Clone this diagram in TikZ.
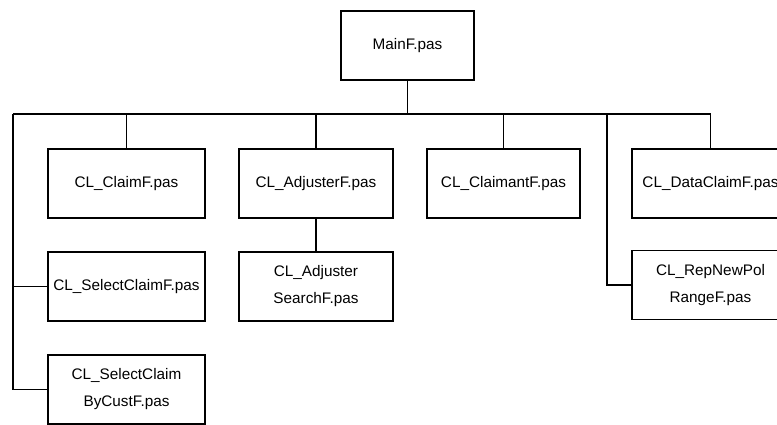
\documentclass[tikz,border=0pt]{standalone}
\usepackage{fontspec}
\setmainfont{Liberation Sans}

\begin{document}
\begin{tikzpicture}[x=1pt,y=-1pt,
    box/.style={draw, line width=1.1pt, minimum width=155pt, minimum height=69pt,
      inner sep=0pt, align=center, font=\fontsize{15.3}{27}\selectfont},
    link/.style={line width=1.1pt}]
        \useasboundingbox (0,0) rectangle (777,424);
        % top module
        \node[box, minimum width=133pt] (mainf) at (407.5,45.5) {MainF.pas};
        % first row
        \node[box, minimum width=157pt] (claimf) at (126.5,183.5) {CL\_ClaimF.pas};
        \node[box, minimum width=154pt] (adjusterf) at (316,183.5) {CL\_AdjusterF.pas};
        \node[box, minimum width=153pt] (claimantf) at (503.5,183.5) {CL\_ClaimantF.pas};
        \node[box, minimum width=157pt] (dataclaimf) at (710.5,183.5) {CL\_DataClaimF.pas};
        % lower rows
        \node[box, minimum width=157pt] (selectclaimf) at (126.5,286.5) {CL\_SelectClaimF.pas};
        \node[box, minimum width=157pt] (bycustf) at (126.5,389.5) {CL\_SelectClaim\\ByCustF.pas};
        \node[box, minimum width=154pt] (searchf) at (316,286.5) {CL\_Adjuster\\SearchF.pas};
        \node[box, minimum width=157pt] (rangef) at (710.5,285) {CL\_RepNewPol\\RangeF.pas};
        % bus
        \coordinate (busl) at (13,114);
        \coordinate (busr) at (711,114);
        \coordinate (split) at (607,114);
        \draw[link] (busl) -- (busr);
        \draw[link] (mainf) -- (mainf |- busl);
        \foreach \n in {claimf,adjusterf,claimantf,dataclaimf}
            \draw[link] (\n) -- (\n |- busl);
        \draw[link] (busl) |- (bycustf.west);
        \draw[link] (selectclaimf.west) -- (selectclaimf.west -| busl);
        \draw[link] (split) |- (rangef.west);
        \draw[link] (adjusterf) -- (searchf);
\end{tikzpicture}
\end{document}
